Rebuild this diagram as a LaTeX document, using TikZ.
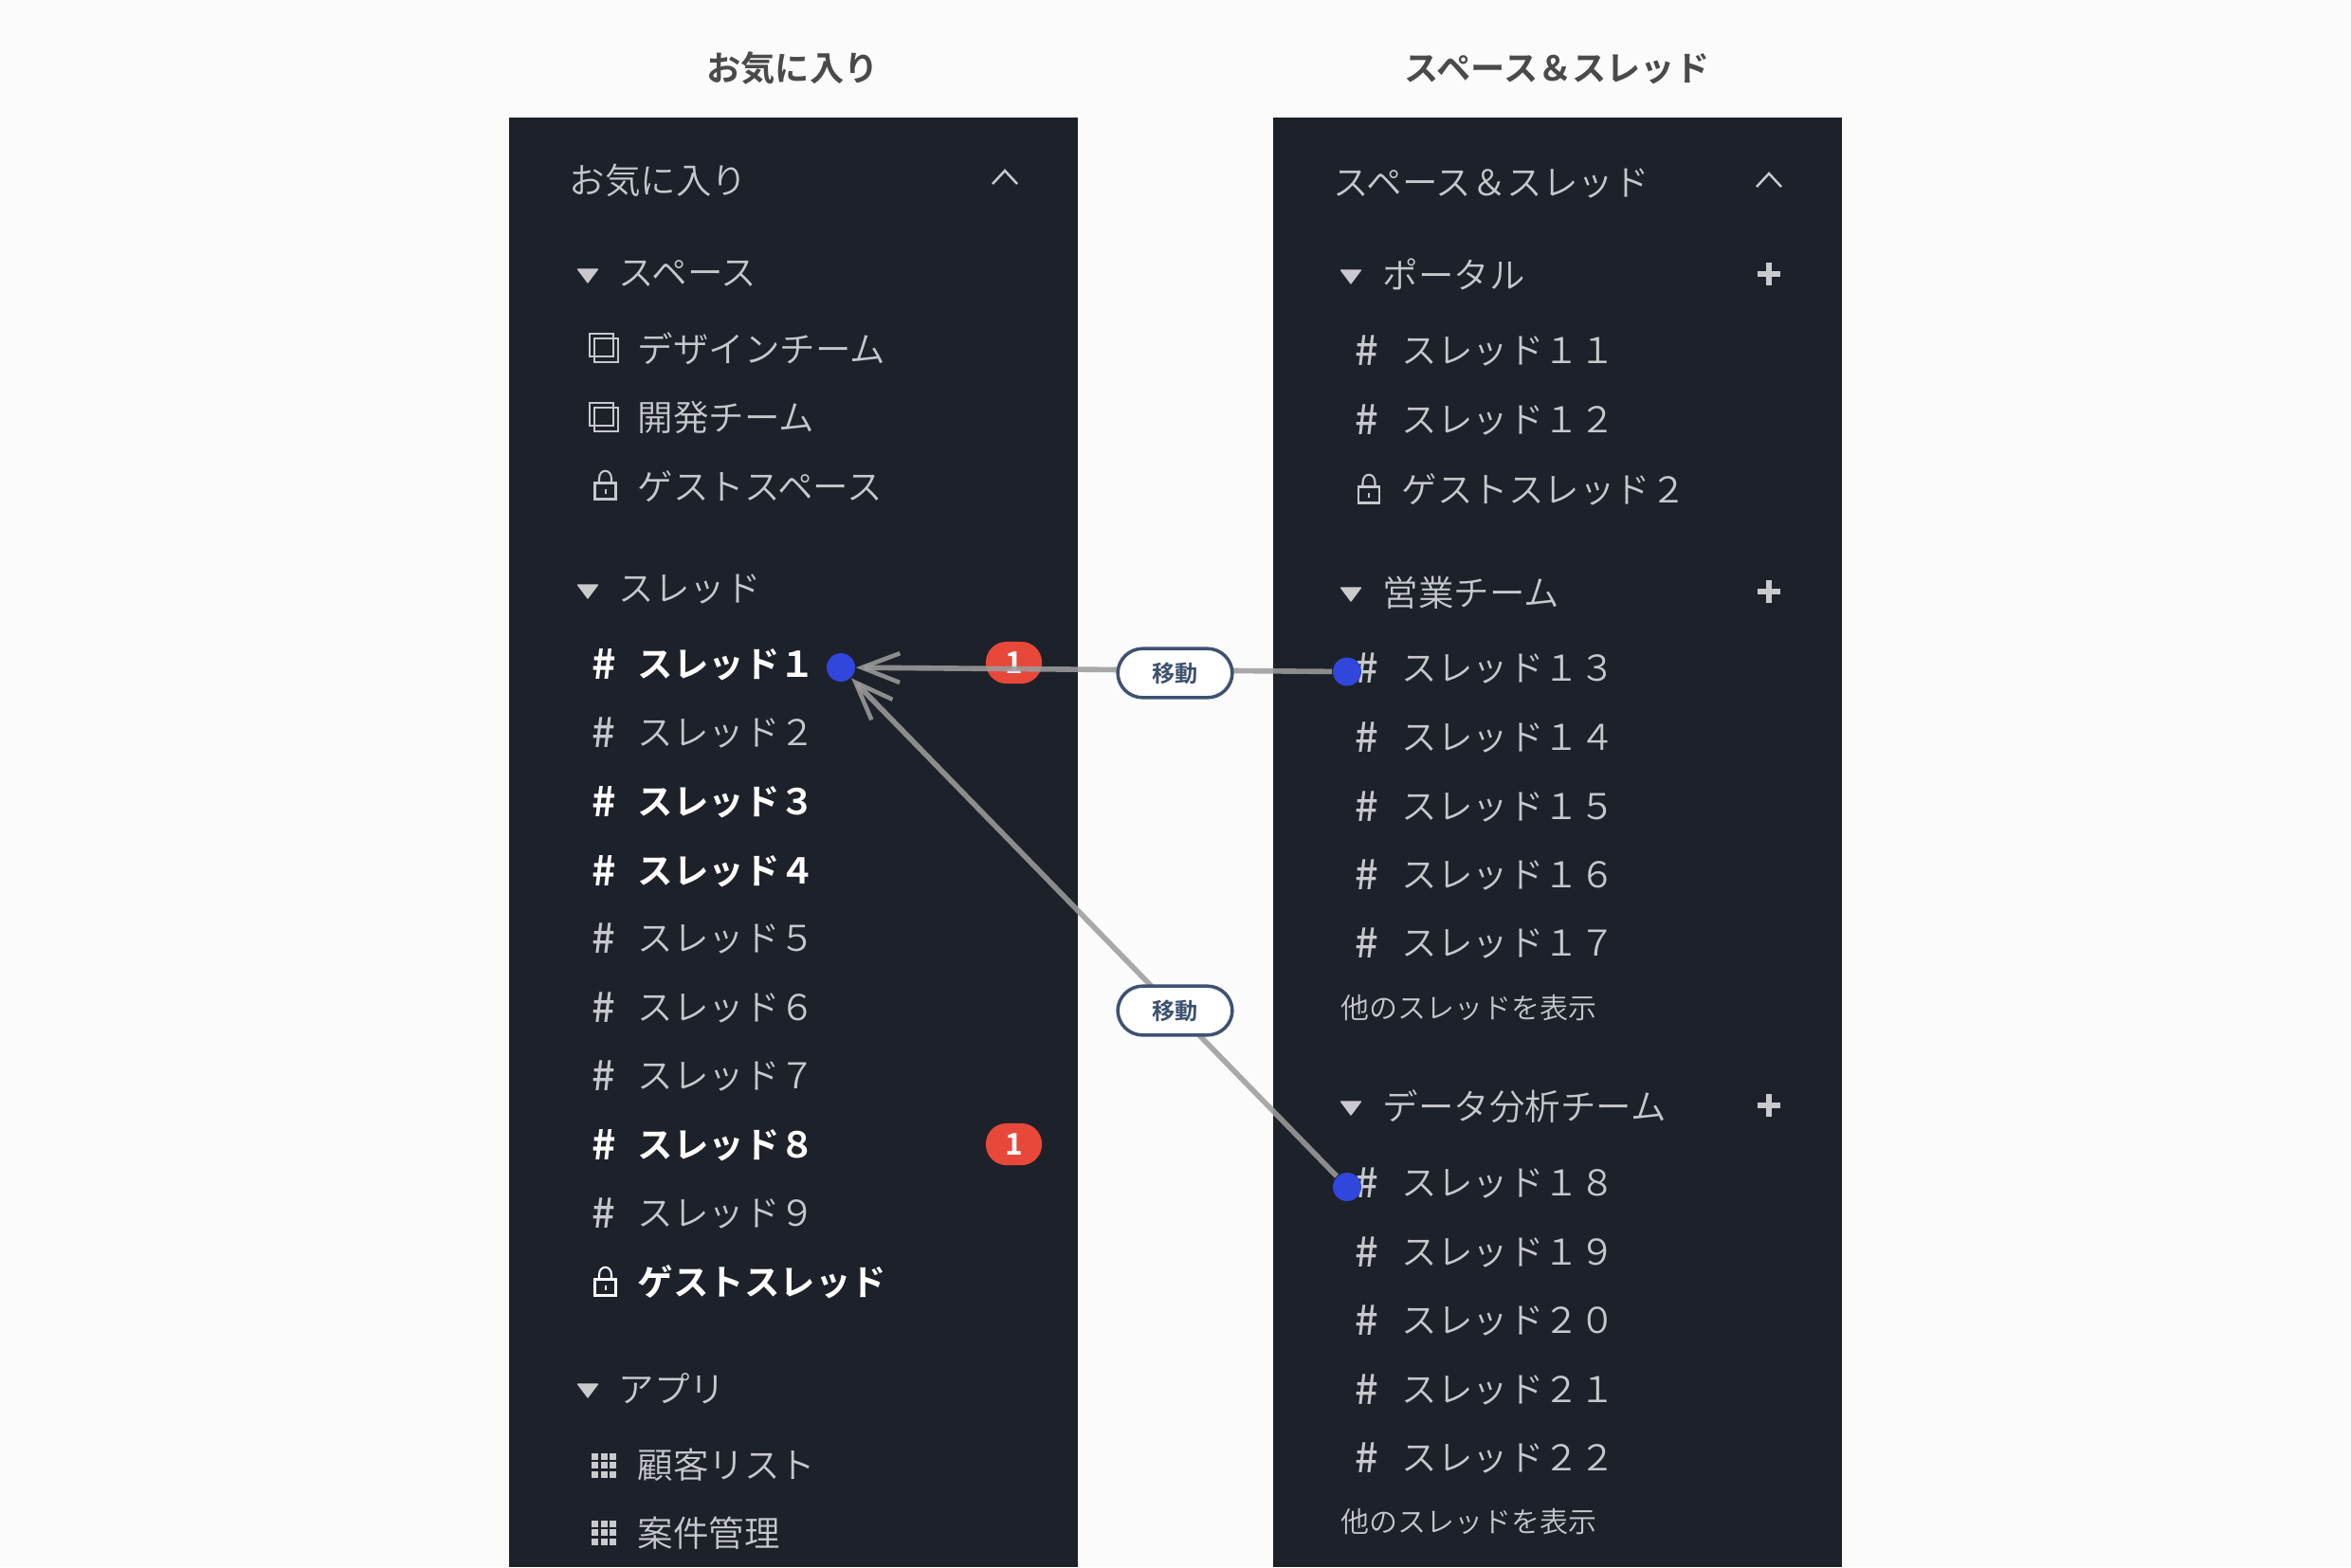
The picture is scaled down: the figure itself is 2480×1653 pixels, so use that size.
\documentclass[tikz,border=0pt]{standalone}
\usepackage{fontspec}
\setmainfont{Noto Sans CJK JP DemiLight}[BoldFont={Noto Sans CJK JP Bold}]
\newfontfamily\hashfont{Noto Sans CJK JP Medium}[BoldFont={Noto Sans CJK JP Bold}]
\usetikzlibrary{arrows.meta}
\definecolor{pagefill}{RGB}{251,251,251}
\definecolor{panelfill}{RGB}{29,33,41}
\definecolor{itemtext}{RGB}{198,200,204}
\definecolor{icongray}{RGB}{200,202,206}
\definecolor{headtext}{RGB}{74,74,74}
\definecolor{badgered}{RGB}{232,72,58}
\definecolor{dotblue}{RGB}{48,70,220}
\definecolor{pilledge}{RGB}{62,82,112}
\definecolor{arrowgray}{RGB}{156,156,156}

\begin{document}
\begin{tikzpicture}[
  x=0.24pt,y=-0.24pt,
  text=itemtext,
  panel/.style={fill=panelfill,minimum width=144pt,minimum height=366.96pt,inner sep=0pt},
  heading/.style={font=\fontsize{8.7}{10}\selectfont\bfseries,text=headtext,inner sep=0pt},
  paneltitle/.style={font=\fontsize{9}{10}\selectfont,anchor=west,inner sep=0pt,yshift=-0.2pt},
  section/.style={font=\fontsize{9}{10}\selectfont,anchor=west,inner sep=0pt,yshift=-0.2pt},
  item/.style={font=\fontsize{9}{10}\selectfont,anchor=west,inner sep=0pt,yshift=-0.2pt},
  itembold/.style={item,font=\fontsize{9}{10}\selectfont\bfseries,text=white},
  hashmark/.style={font=\hashfont\fontsize{10.4}{10}\selectfont,inner sep=0pt},
  hashbold/.style={hashmark,font=\hashfont\fontsize{10.4}{10}\selectfont\bfseries,text=white},
  more/.style={font=\fontsize{7.2}{9}\selectfont,anchor=west,inner sep=0pt},
  badge/.style={fill=badgered,text=white,rounded corners=5.2pt,minimum width=14.2pt,minimum height=10.6pt,
    inner sep=0pt,font=\fontsize{7.6}{9}\selectfont\bfseries},
  enddot/.style={circle,fill=dotblue,minimum size=7.2pt,inner sep=0pt},
  movepill/.style={draw=pilledge,fill=white,line width=0.85pt,rounded corners=6.3pt,minimum width=29pt,
    minimum height=12.4pt,inner sep=0pt,text=pilledge,font=\fontsize{5.8}{7}\selectfont\bfseries},
  arrow/.style={-{Straight Barb[length=9.6pt,width=7.4pt,line width=1.1pt]},line width=1.35pt,draw=arrowgray,
    draw opacity=0.87},
  chevron/.style={draw=icongray,line width=0.6pt},
  plusmark/.style={draw=icongray,line width=1.3pt},
  caret/.style={fill=icongray,draw=icongray,line width=0.3pt,line join=round},
  stackicon/.style={draw=itemtext,line width=0.26pt}
]
\useasboundingbox (0,0) rectangle (2480,1653);
\fill[pagefill] (0,0) rectangle (2480,1653);

\node[panel] (panelA) at (837,888.5) {};
\node[panel] (panelB) at (1642.5,888.5) {};
\node[heading] (headA) at (836,72) {お気に入り};
\node[heading] (headB) at (1642.5,73) {スペース＆スレッド};

% -------------------------------------------------------------------------
% Left panel.
% -------------------------------------------------------------------------
\node[paneltitle] (titleA) at (600,189) {お気に入り};
\draw[chevron] (1047,194) -- (1060,180) -- (1073,194);

\foreach \y/\t/\n in {288/スペース/a,621/スレッド/b,1464/アプリ/c}
  {\node[section] (asec\n) at (652,\y) {\t};
   \draw[caret] (609.5,\y-4) -- (630.5,\y-4) -- (620,\y+10) -- cycle;}

\node[item] (aspace1) at (672,367) {デザインチーム};
\node[item] (aspace2) at (672,440) {開発チーム};
\node[item] (aspace3) at (672,512) {ゲストスペース};
\foreach \y in {367,440}
  {\draw[stackicon] (622,\y-15) rectangle (647,\y+9);
   \draw[stackicon] (627,\y-10) rectangle (652,\y+15);}

% Threads with unread posts are bold.
\foreach \y/\t/\n in {773/２/2,990/５/5,1063/６/6,1135/７/7,1280/９/9}
  {\node[hashmark] (ah\n) at (637,\y) {\#};
   \node[item] (at\n) at (672,\y) {スレッド\t};}
\foreach \y/\t/\n in {700/１/1,845/３/3,918/４/4,1207/８/8}
  {\node[hashbold] (ah\n) at (637,\y) {\#};
   \node[itembold] (at\n) at (672,\y) {スレッド\t};}
\node[itembold] (atg) at (672,1351) {ゲストスレッド};

\node[badge] (badge1) at (1069.5,699) {1};
\node[badge] (badge8) at (1069.5,1207) {1};

\node[item] (aapp1) at (672,1544) {顧客リスト};
\node[item] (aapp2) at (672,1616) {案件管理};
\foreach \y in {1545,1616}
  {\foreach \i in {0,1,2}
    {\foreach \j in {0,1,2}
      {\fill[icongray] (624+9.5*\i,\y-12.5+9.5*\j) rectangle ++(7,7);}}}

% -------------------------------------------------------------------------
% Right panel.
% -------------------------------------------------------------------------
\node[paneltitle] (titleB) at (1406,193) {スペース＆スレッド};
\draw[chevron] (1853,197) -- (1866,183) -- (1879,197);

\foreach \y/\t/\n in {289/ポータル/a,624/営業チーム/b,1166/データ分析チーム/c}
  {\node[section] (bsec\n) at (1458,\y) {\t};
   \draw[caret] (1414.5,\y-4) -- (1435.5,\y-4) -- (1425,\y+10) -- cycle;
   \draw[plusmark] (1854,\y) -- (1878,\y) (1866,\y-12) -- (1866,\y+12);}

\foreach \y/\t/\n in {370/１１/11,443/１２/12,705/１３/13,778/１４/14,851/１５/15,923/１６/16,995/１７/17,
    1248/１８/18,1321/１９/19,1393/２０/20,1466/２１/21,1538/２２/22}
  {\node[hashmark] (bh\n) at (1442,\y) {\#};
   \node[item] (bt\n) at (1478,\y) {スレッド\t};}
\node[item] (btg) at (1478,515) {ゲストスレッド２};
\node[more] (bmore1) at (1414,1063) {他のスレッドを表示};
\node[more] (bmore2) at (1414,1605) {他のスレッドを表示};

% Lock icon, shared by guest rows of both panels.
\foreach \x/\y/\c in {638.5/512/itemtext,638.5/1352/white,1444/516/itemtext}
  {\draw[draw=\c,line width=0.5pt] (\x-11,\y-2.5) rectangle (\x+11,\y+14.5);
   \draw[draw=\c,line width=0.5pt] (\x-6.5,\y-2.5) -- (\x-6.5,\y-7)
     .. controls (\x-6.5,\y-18) and (\x+6.5,\y-18) .. (\x+6.5,\y-7) -- (\x+6.5,\y-2.5);
   \fill[\c] (\x-1,\y+4) rectangle (\x+1,\y+8.5);}

% -------------------------------------------------------------------------
% Moves from the right panel to the left one.
% -------------------------------------------------------------------------
\node[enddot] (dotA) at (887,704) {};
\node[enddot] (dotB) at (1421,708.5) {};
\node[enddot] (dotC) at (1421,1252) {};
\draw[arrow] (dotB) -- (dotA);
\draw[arrow] (dotC) -- (dotA);
\node[movepill] (moveB) at (1239.5,710) {移動};
\node[movepill] (moveC) at (1239.5,1066) {移動};
\end{tikzpicture}
\end{document}
